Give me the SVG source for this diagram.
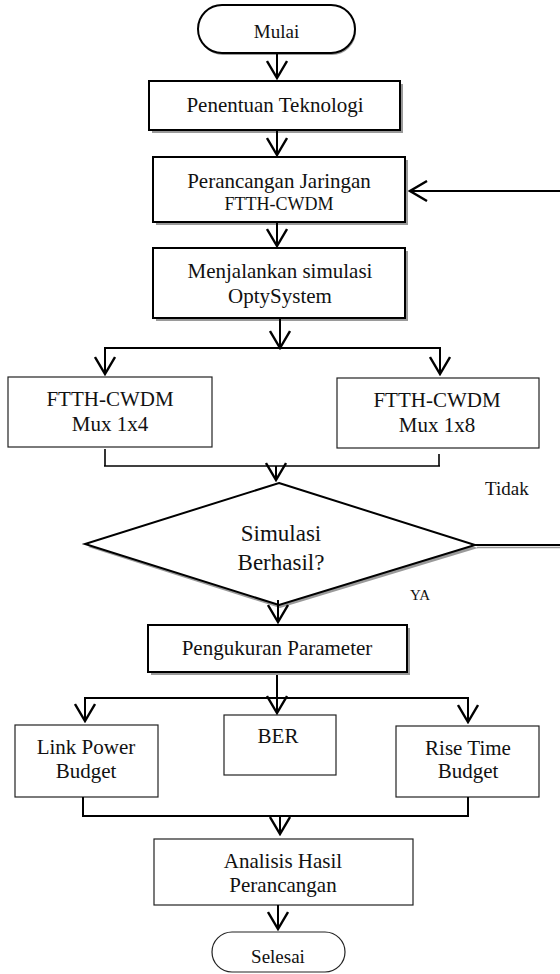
<svg xmlns="http://www.w3.org/2000/svg" width="560" height="974" viewBox="0 0 560 974">
<style>
text{font-family:"Liberation Serif","Times New Roman",Tinos,"Noto Serif","DejaVu Serif",FreeSerif,Times,serif;fill:#111;text-anchor:middle}
.t21{font-size:21px}
.t18{font-size:18px}
.t19{font-size:19px}
.t23{font-size:23px}
.thick{fill:#fff;stroke:#000;stroke-width:2}
.thin{fill:#fff;stroke:#222;stroke-width:1.2}
.shadow{fill:#9a9a9a;stroke:none}
.ln{fill:none;stroke:#000;stroke-width:2}
.lnt{fill:none;stroke:#000;stroke-width:1.6}
</style>
<defs>
<marker id="arr" viewBox="0 0 20 22" refX="18" refY="11" markerWidth="20" markerHeight="22" markerUnits="userSpaceOnUse" orient="auto">
<path d="M1,1 L18,11 L1,21" fill="none" stroke="#000" stroke-width="2.4"/>
</marker>
</defs>

<g id="mulai">
<rect class="shadow" x="199" y="7" width="157" height="48" rx="24"/>
<rect class="thick" x="198" y="5" width="157" height="48" rx="24" stroke-width="1.6"/>
<text class="t19" x="276.5" y="38">Mulai</text>
</g>

<g id="penentuan">
<rect class="shadow" x="152" y="84" width="251" height="49"/>
<rect class="thick" x="149" y="81" width="251" height="49"/>
<text class="t21" x="275" y="112">Penentuan Teknologi</text>
</g>

<g id="perancangan">
<rect class="shadow" x="156" y="160" width="252" height="65"/>
<rect class="thick" x="153" y="157" width="252" height="65"/>
<text class="t21" x="279" y="188">Perancangan Jaringan</text>
<text class="t18" x="279" y="210">FTTH-CWDM</text>
</g>

<g id="menjalankan">
<rect class="shadow" x="156" y="251" width="252" height="70"/>
<rect class="thick" x="153" y="248" width="252" height="70"/>
<text class="t21" x="280" y="278">Menjalankan simulasi</text>
<text class="t21" x="280" y="303">OptySystem</text>
</g>

<g id="mux4">
<rect class="thin" x="8" y="377" width="204" height="70"/>
<text class="t21" x="110" y="406">FTTH-CWDM</text>
<text class="t21" x="110" y="431">Mux 1x4</text>
</g>

<g id="mux8">
<rect class="thin" x="337" y="378" width="202" height="70"/>
<text class="t21" x="437" y="407">FTTH-CWDM</text>
<text class="t21" x="437" y="432">Mux 1x8</text>
</g>

<g id="decision">
<polygon class="shadow" points="280,486 478,548 280,608 88,547"/>
<polygon class="thick" points="279,483 475,545 279,605 85,544"/>
<text class="t23" x="281" y="541">Simulasi</text>
<text class="t23" x="281" y="570">Berhasil?</text>
</g>

<g id="pengukuran">
<rect class="shadow" x="151" y="628" width="259" height="47"/>
<rect class="thick" x="148" y="625" width="259" height="47"/>
<text class="t21" x="277" y="655">Pengukuran Parameter</text>
</g>

<g id="linkpower">
<rect class="thin" x="15" y="725" width="143" height="72"/>
<text class="t21" x="86" y="754">Link Power</text>
<text class="t21" x="86" y="778">Budget</text>
</g>

<g id="ber">
<rect class="thin" x="224" y="715" width="112" height="60"/>
<text class="t21" x="278" y="743">BER</text>
</g>

<g id="risetime">
<rect class="thin" x="396" y="726" width="143" height="71"/>
<text class="t21" x="468" y="755">Rise Time</text>
<text class="t21" x="468" y="778">Budget</text>
</g>

<g id="analisis">
<rect class="thin" x="154" y="839" width="259" height="66"/>
<text class="t21" x="283" y="868">Analisis Hasil</text>
<text class="t21" x="283" y="892">Perancangan</text>
</g>

<g id="selesai">
<rect class="thin" x="212" y="932" width="133" height="40" rx="20"/>
<text class="t19" x="278" y="963">Selesai</text>
</g>

<g id="connectors">
<line class="ln" x1="277" y1="53" x2="277" y2="78" marker-end="url(#arr)"/>
<line class="ln" x1="277" y1="130" x2="277" y2="155" marker-end="url(#arr)"/>
<line class="ln" x1="277" y1="222" x2="277" y2="246" marker-end="url(#arr)"/>
<line class="ln" x1="280" y1="318" x2="280" y2="348" marker-end="url(#arr)"/>
<line class="ln" x1="104" y1="348" x2="441" y2="348"/>
<line class="ln" x1="105" y1="348" x2="105" y2="374" marker-end="url(#arr)"/>
<line class="ln" x1="440" y1="348" x2="440" y2="374" marker-end="url(#arr)"/>
<line class="lnt" x1="105" y1="449" x2="105" y2="466"/>
<line class="lnt" x1="439" y1="454" x2="439" y2="466"/>
<line class="lnt" x1="104" y1="466" x2="440" y2="466"/>
<line class="ln" x1="276" y1="466" x2="276" y2="480" marker-end="url(#arr)"/>
<line class="ln" x1="475" y1="545" x2="560" y2="545"/>
<line x1="477" y1="547.5" x2="560" y2="547.5" stroke="#9a9a9a" stroke-width="1.5"/>
<line class="ln" x1="560" y1="191" x2="410" y2="191" marker-end="url(#arr)"/>
<line class="ln" x1="278" y1="600" x2="278" y2="622" marker-end="url(#arr)"/>
<line class="ln" x1="277" y1="675" x2="277" y2="698"/>
<line class="ln" x1="84" y1="698" x2="469" y2="698"/>
<line class="ln" x1="85" y1="698" x2="85" y2="721" marker-end="url(#arr)"/>
<line class="ln" x1="277" y1="698" x2="277" y2="713" marker-end="url(#arr)"/>
<line class="ln" x1="468" y1="698" x2="468" y2="722" marker-end="url(#arr)"/>
<line class="ln" x1="83" y1="797" x2="83" y2="816"/>
<line class="ln" x1="468" y1="797" x2="468" y2="816"/>
<line class="ln" x1="82" y1="816" x2="469" y2="816"/>
<line class="ln" x1="280" y1="816" x2="280" y2="834" marker-end="url(#arr)"/>
<line class="ln" x1="278" y1="905" x2="278" y2="929" marker-end="url(#arr)"/>
</g>

<g id="labels">
<text class="t19" x="485" y="495" style="text-anchor:start">Tidak</text>
<text x="410" y="600" style="text-anchor:start;font-size:15px">YA</text>
</g>
</svg>
